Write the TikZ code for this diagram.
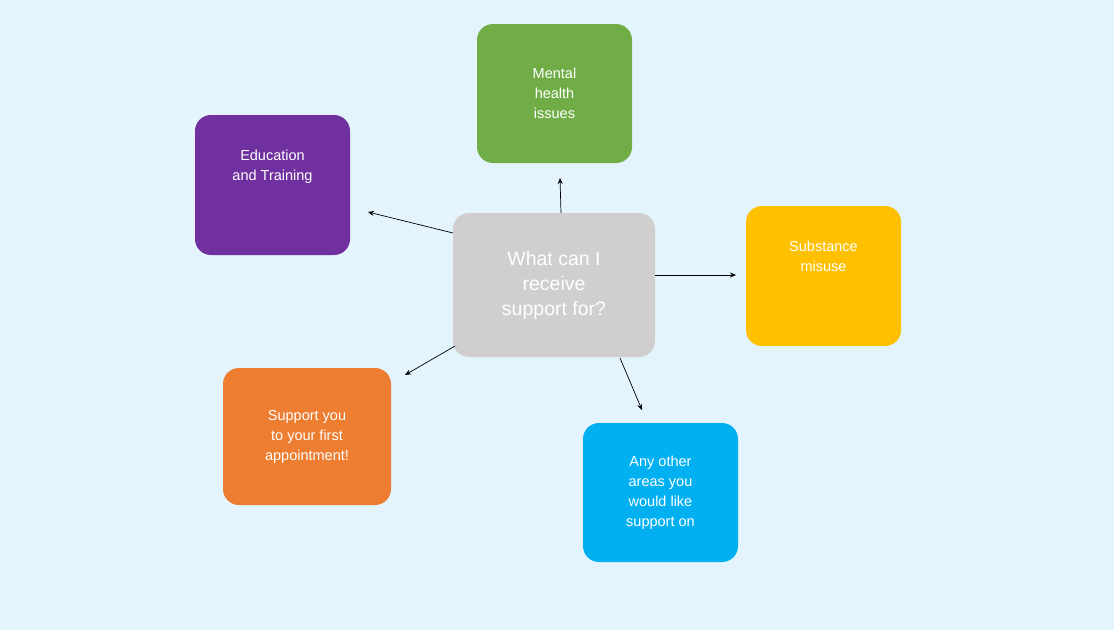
\documentclass[tikz,border=0pt]{standalone}
\usepackage{fontspec}
\setmainfont{Liberation Sans}
\usetikzlibrary{arrows.meta}
\definecolor{bg}{HTML}{E4F4FC}
\definecolor{cgreen}{HTML}{70AD47}
\definecolor{cpurple}{HTML}{7030A0}
\definecolor{cgold}{HTML}{FFC000}
\definecolor{corange}{HTML}{ED7D31}
\definecolor{cblue}{HTML}{00B0F0}
\definecolor{cgray}{HTML}{D0CECE}
\begin{document}
\begin{tikzpicture}[x=1pt,y=-1pt,
 box/.style={rounded corners=16pt,minimum width=155pt,minimum height=139pt,text=white,align=center,font=\fontsize{14.5}{20}\selectfont,inner sep=0pt},
 arr/.style={-{Stealth[length=6pt,width=5pt]},line width=0.7pt}]
\fill[bg] (0,0) rectangle (1114,630);
\useasboundingbox (0,0) rectangle (1114,630);
\node[box,fill=cgreen] (m) at (554.5,93.5) {Mental\\health\\issues};
\node[box,fill=cpurple,minimum height=140pt] (e) at (272.5,185) {Education\\and Training\\[20pt]};
\node[box,fill=cgray,minimum width=202pt,minimum height=144pt,font=\fontsize{19.5}{25}\selectfont] (c) at (554,285) {What can I\\receive\\support for?};
\node[box,fill=cgold,minimum height=140pt] (s) at (823.5,276) {Substance\\misuse\\[20pt]};
\node[box,fill=corange,minimum width=168pt,minimum height=137pt] (o) at (307,436.5) {Support you\\to your first\\appointment!};
\node[box,fill=cblue] (a) at (660.5,492.5) {Any other\\areas you\\would like\\support on};
\coordinate (t1) at (560,178);
\coordinate (t2) at (368,212);
\coordinate (t3) at (736,275);
\coordinate (t4) at (405,375);
\coordinate (t5) at (642,410);
\draw[arr] (c.north -| 561,0) -- (t1);
\draw[arr] (453,233) -- (t2);
\draw[arr] (c.east |- t3) -- (t3);
\draw[arr] (455,346) -- (t4);
\draw[arr] (620,358) -- (t5);
\end{tikzpicture}
\end{document}
